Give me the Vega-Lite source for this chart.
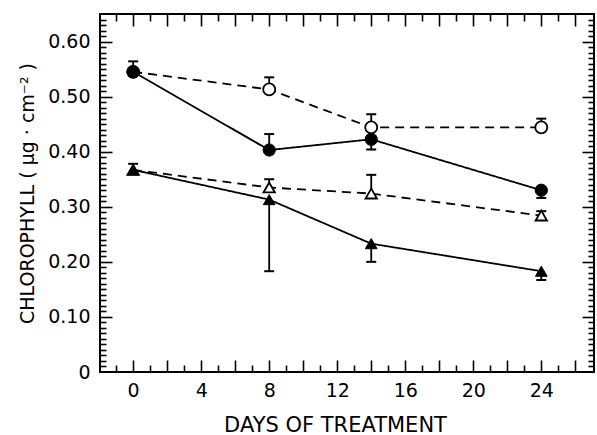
{
  "$schema": "https://vega.github.io/schema/vega-lite/v6.json",
  "width": 494,
  "height": 358,
  "autosize": "none",
  "padding": {"left": 100, "top": 14, "right": 3, "bottom": 63},
  "background": "white",
  "config": {
    "view": {"stroke": "black", "strokeWidth": 2},
    "axis": {
      "domain": false,
      "grid": false,
      "tickColor": "black",
      "tickWidth": 1.6,
      "labelColor": "black",
      "titleColor": "black",
      "labelFont": "DejaVu Sans",
      "titleFont": "DejaVu Sans",
      "labelFontSize": 19,
      "titleFontSize": 19,
      "labelFontWeight": "normal",
      "titleFontWeight": "normal"
    }
  },
  "datasets": {
    "pts": [
      {"s": "FC", "d": 0, "v": 0.545, "lo": 0.545, "hi": 0.564},
      {"s": "FC", "d": 8, "v": 0.403, "lo": 0.403, "hi": 0.432},
      {"s": "FC", "d": 14, "v": 0.4225, "lo": 0.404, "hi": 0.441},
      {"s": "FC", "d": 24, "v": 0.33, "lo": 0.316, "hi": 0.33},
      {"s": "OC", "d": 0, "v": 0.545, "lo": null, "hi": null},
      {"s": "OC", "d": 8, "v": 0.513, "lo": 0.513, "hi": 0.535},
      {"s": "OC", "d": 14, "v": 0.444, "lo": 0.444, "hi": 0.468},
      {"s": "OC", "d": 24, "v": 0.444, "lo": 0.444, "hi": 0.46},
      {"s": "FT", "d": 0, "v": 0.367, "lo": 0.367, "hi": 0.378},
      {"s": "FT", "d": 8, "v": 0.313, "lo": 0.183, "hi": 0.313},
      {"s": "FT", "d": 14, "v": 0.233, "lo": 0.2, "hi": 0.233},
      {"s": "FT", "d": 24, "v": 0.183, "lo": 0.167, "hi": 0.183},
      {"s": "OT", "d": 0, "v": 0.367, "lo": null, "hi": null},
      {"s": "OT", "d": 8, "v": 0.335, "lo": 0.335, "hi": 0.35},
      {"s": "OT", "d": 14, "v": 0.324, "lo": 0.324, "hi": 0.358},
      {"s": "OT", "d": 24, "v": 0.284, "lo": 0.276, "hi": 0.292}
    ]
  },
  "data": {"name": "pts"},
  "resolve": {"axis": {"x": "independent", "y": "independent"}},
  "layer": [
    {
      "mark": {"type": "point", "opacity": 0},
      "encoding": {
        "x": {"field": "d", "type": "quantitative",
          "scale": {"domain": [-1.95, 27.1], "nice": false, "zero": false},
          "axis": {"orient": "bottom", "ticks": false, "labels": true,
            "values": [0, 4, 8, 12, 16, 20, 24], "labelPadding": 9,
            "title": "DAYS OF TREATMENT", "titleFontSize": 21, "titlePadding": 14, "titleX": 235}},
        "y": {"field": "v", "type": "quantitative",
          "scale": {"domain": [0, 0.65], "nice": false, "zero": false},
          "axis": {"orient": "left", "ticks": false, "labels": true,
            "values": [0, 0.1, 0.2, 0.3, 0.4, 0.5, 0.6],
            "labelExpr": "datum.value == 0 ? '0' : format(datum.value, '.2f')",
            "labelPadding": 10,
            "title": "CHLOROPHYLL ( µg · cm⁻² )", "titlePadding": 10}}
      }
    },
    {
      "mark": {"type": "point", "opacity": 0},
      "encoding": {
        "x": {"field": "d", "type": "quantitative",
          "scale": {"domain": [-1.95, 27.1], "nice": false, "zero": false},
          "axis": {"orient": "bottom", "labels": false, "title": null,
            "values": [-1, 0, 1, 2, 3, 4, 5, 6, 7, 8, 9, 10, 11, 12, 13, 14, 15, 16, 17, 18, 19, 20, 21, 22, 23, 24, 25, 26],
            "tickSize": {"condition": {"test": "datum.value % 2 == 0", "value": -12}, "value": -7}}},
        "y": {"field": "v", "type": "quantitative",
          "scale": {"domain": [0, 0.65], "nice": false, "zero": false},
          "axis": {"orient": "left", "labels": false, "title": null,
            "values": [0.01, 0.02, 0.03, 0.04, 0.05, 0.06, 0.07, 0.08, 0.09, 0.1, 0.11, 0.12, 0.13, 0.14, 0.15, 0.16, 0.17, 0.18, 0.19, 0.2, 0.21, 0.22, 0.23, 0.24, 0.25, 0.26, 0.27, 0.28, 0.29, 0.3, 0.31, 0.32, 0.33, 0.34, 0.35, 0.36, 0.37, 0.38, 0.39, 0.4, 0.41, 0.42, 0.43, 0.44, 0.45, 0.46, 0.47, 0.48, 0.49, 0.5, 0.51, 0.52, 0.53, 0.54, 0.55, 0.56, 0.57, 0.58, 0.59, 0.6, 0.61, 0.62, 0.63, 0.64],
            "tickSize": {"condition": {"test": "abs(datum.value * 10 - round(datum.value * 10)) < 0.001", "value": -12}, "value": -6}}}
      }
    },
    {
      "mark": {"type": "point", "opacity": 0},
      "encoding": {
        "x": {"field": "d", "type": "quantitative",
          "scale": {"domain": [-1.95, 27.1], "nice": false, "zero": false},
          "axis": {"orient": "top", "labels": false, "title": null,
            "values": [-1, 0, 1, 2, 3, 4, 5, 6, 7, 8, 9, 10, 11, 12, 13, 14, 15, 16, 17, 18, 19, 20, 21, 22, 23, 24, 25, 26],
            "tickSize": {"condition": {"test": "datum.value % 2 == 0", "value": -12}, "value": -7}}},
        "y": {"field": "v", "type": "quantitative",
          "scale": {"domain": [0, 0.65], "nice": false, "zero": false},
          "axis": {"orient": "right", "labels": false, "title": null,
            "values": [0.01, 0.02, 0.03, 0.04, 0.05, 0.06, 0.07, 0.08, 0.09, 0.1, 0.11, 0.12, 0.13, 0.14, 0.15, 0.16, 0.17, 0.18, 0.19, 0.2, 0.21, 0.22, 0.23, 0.24, 0.25, 0.26, 0.27, 0.28, 0.29, 0.3, 0.31, 0.32, 0.33, 0.34, 0.35, 0.36, 0.37, 0.38, 0.39, 0.4, 0.41, 0.42, 0.43, 0.44, 0.45, 0.46, 0.47, 0.48, 0.49, 0.5, 0.51, 0.52, 0.53, 0.54, 0.55, 0.56, 0.57, 0.58, 0.59, 0.6, 0.61, 0.62, 0.63, 0.64],
            "tickSize": {"condition": {"test": "abs(datum.value * 10 - round(datum.value * 10)) < 0.001", "value": -12}, "value": -6}}}
      }
    },
    {
      "mark": {"type": "line", "color": "black", "strokeWidth": 1.8},
      "encoding": {
        "x": {"field": "d", "type": "quantitative", "axis": null},
        "y": {"field": "v", "type": "quantitative", "axis": null},
        "detail": {"field": "s"},
        "strokeDash": {"field": "s", "type": "nominal", "legend": null,
          "scale": {"domain": ["FC", "OC", "FT", "OT"], "range": [[1, 0], [9, 6], [1, 0], [9, 6]]}}
      }
    },
    {
      "transform": [{"filter": "datum.lo != null"}],
      "mark": {"type": "rule", "color": "black", "strokeWidth": 1.8},
      "encoding": {
        "x": {"field": "d", "type": "quantitative", "axis": null},
        "y": {"field": "lo", "type": "quantitative", "axis": null},
        "y2": {"field": "hi"}
      }
    },
    {
      "transform": [
        {"fold": ["lo", "hi"], "as": ["k", "cv"]},
        {"filter": "datum.cv != null && datum.cv != datum.v"}
      ],
      "mark": {"type": "point", "shape": "stroke", "size": 100, "filled": false, "color": "black", "strokeWidth": 2, "opacity": 1},
      "encoding": {
        "x": {"field": "d", "type": "quantitative", "axis": null},
        "y": {"field": "cv", "type": "quantitative", "axis": null}
      }
    },
    {
      "transform": [{"filter": "datum.s == 'OC' || datum.s == 'OT'"}],
      "mark": {"type": "point", "filled": true, "fill": "white", "stroke": "black", "strokeWidth": 1.8, "opacity": 1},
      "encoding": {
        "x": {"field": "d", "type": "quantitative", "axis": null},
        "y": {"field": "v", "type": "quantitative", "axis": null},
        "shape": {"field": "s", "type": "nominal", "legend": null,
          "scale": {"domain": ["FC", "OC", "FT", "OT"], "range": ["circle", "circle", "triangle-up", "triangle-up"]}},
        "size": {"field": "s", "type": "nominal", "legend": null,
          "scale": {"domain": ["FC", "OC", "FT", "OT"], "range": [150, 130, 190, 170]}}
      }
    },
    {
      "transform": [{"filter": "datum.s == 'FC' || datum.s == 'FT'"}],
      "mark": {"type": "point", "filled": true, "fill": "black", "stroke": "black", "strokeWidth": 1, "opacity": 1},
      "encoding": {
        "x": {"field": "d", "type": "quantitative", "axis": null},
        "y": {"field": "v", "type": "quantitative", "axis": null},
        "shape": {"field": "s", "type": "nominal", "legend": null,
          "scale": {"domain": ["FC", "OC", "FT", "OT"], "range": ["circle", "circle", "triangle-up", "triangle-up"]}},
        "size": {"field": "s", "type": "nominal", "legend": null,
          "scale": {"domain": ["FC", "OC", "FT", "OT"], "range": [160, 130, 200, 170]}}
      }
    }
  ]
}
